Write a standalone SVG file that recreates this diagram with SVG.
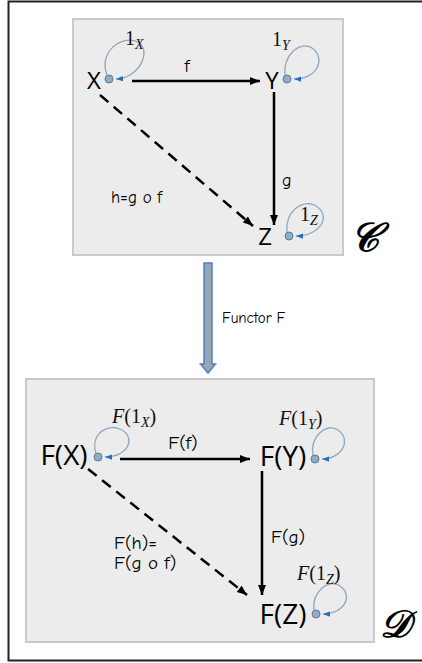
<svg xmlns="http://www.w3.org/2000/svg" width="422" height="663" viewBox="0 0 422 663">
<defs>
<marker id="ah" viewBox="0 0 10 8" refX="10" refY="4" markerWidth="11" markerHeight="8" markerUnits="userSpaceOnUse" orient="auto"><path d="M0,0 L10,4 L0,8 Z" fill="#000"/></marker>
<marker id="lh" viewBox="0 0 8 6" refX="8" refY="3" markerWidth="7" markerHeight="6" markerUnits="userSpaceOnUse" orient="auto"><path d="M0,0 L8,3 L0,6 Z" fill="#1f6fc0"/></marker>
</defs>
<style>
.box{fill:#ececec;stroke:#c9c9c9;stroke-width:2}
.node{font-family:"Open Sans","Noto Sans",sans-serif;fill:#000}
.lab{font-family:"Comic Neue","DejaVu Sans",sans-serif;fill:#000}
.math{font-family:"Liberation Serif","DejaVu Serif",serif;fill:#111}
.edge{stroke:#000;stroke-width:2.5;fill:none}
.dash{stroke-dasharray:11,7}
.loop{stroke:#8ea7bd;stroke-width:1.3;fill:none}
.dot{fill:#93abc3;stroke:#5d7c9a;stroke-width:1}
.cat{font-family:"DejaVu Serif","Liberation Serif",serif;font-style:italic;font-weight:bold;fill:#000}
</style>
<path d="M430,1.5 H8.5 V660.5 H430" fill="#fff" stroke="#222" stroke-width="2"/>
<rect class="box" x="73" y="19" width="270" height="236"/>
<rect class="box" x="26" y="379" width="348" height="263"/>

<g id="connectors">
<line class="edge" x1="132" y1="81" x2="260" y2="81" marker-end="url(#ah)"/>
<line class="edge" x1="274" y1="92" x2="274" y2="225" marker-end="url(#ah)"/>
<line class="edge dash" x1="100" y1="95" x2="253" y2="226" marker-end="url(#ah)"/>
<line class="edge" x1="120" y1="459" x2="250" y2="459" marker-end="url(#ah)"/>
<line class="edge" x1="262" y1="471" x2="262" y2="595" marker-end="url(#ah)"/>
<line class="edge dash" x1="88" y1="469" x2="247" y2="595" marker-end="url(#ah)"/>
<path class="loop" d="M107,75 C98,52 122,34 138,42 C152,50 140,78 116,79" marker-end="url(#lh)"/>
<path class="loop" d="M285,75 C283,55 300,40 312,48 C326,58 318,79 294,79" marker-end="url(#lh)"/>
<path class="loop" d="M287,232 C285,212 302,198 316,206 C332,216 320,236 296,236" marker-end="url(#lh)"/>
<path class="loop" d="M96,453 C90,434 108,422 122,430 C136,438 128,457 105,457" marker-end="url(#lh)"/>
<path class="loop" d="M313,455 C310,437 326,422 338,430 C352,440 342,459 322,459" marker-end="url(#lh)"/>
<path class="loop" d="M314,610 C312,592 328,578 340,586 C354,596 344,614 323,614" marker-end="url(#lh)"/>
<path d="M204,263 H212 V364 H215.5 L208,373 L200.5,364 H204 Z" fill="#97a6b4" stroke="#4f81bd" stroke-width="1.5"/>
<text class="lab" x="222" y="323" font-size="15">Functor F</text>
</g>

<g id="X"><circle class="dot" cx="109" cy="79" r="4"/><text class="node" x="94" y="88.5" font-size="24" text-anchor="middle">X</text><text class="math" x="125" y="45" font-size="20">1<tspan font-style="italic" font-size="14" dy="4">X</tspan></text></g>
<g id="Y"><circle class="dot" cx="287" cy="79" r="4"/><text class="node" x="272" y="88.5" font-size="24" text-anchor="middle">Y</text><text class="math" x="272" y="46" font-size="20">1<tspan font-style="italic" font-size="14" dy="4">Y</tspan></text></g>
<g id="Z"><circle class="dot" cx="289" cy="236" r="4"/><text class="node" x="265" y="245" font-size="24" text-anchor="middle">Z</text><text class="math" x="300" y="221" font-size="20">1<tspan font-style="italic" font-size="14" dy="4">Z</tspan></text></g>
<g id="labels-top">
<text class="lab" x="187" y="72" font-size="18" text-anchor="middle">f</text>
<text class="lab" x="282" y="186" font-size="18">g</text>
<text class="lab" x="111" y="203" font-size="17">h=g o f</text>
<text class="cat" x="350" y="251" font-size="40">𝒞</text>
</g>

<g id="FX"><circle class="dot" cx="98" cy="457" r="4"/><text class="node" x="64" y="465" font-size="28" text-anchor="middle">F(X)</text><text class="math" x="112" y="423" font-size="20"><tspan font-style="italic">F</tspan>(1<tspan font-style="italic" font-size="14" dy="4">X</tspan><tspan dy="-4">)</tspan></text></g>
<g id="FY"><circle class="dot" cx="315" cy="459" r="4"/><text class="node" x="283" y="466" font-size="28" text-anchor="middle">F(Y)</text><text class="math" x="279" y="425" font-size="20"><tspan font-style="italic">F</tspan>(1<tspan font-style="italic" font-size="14" dy="4">Y</tspan><tspan dy="-4">)</tspan></text></g>
<g id="FZ"><circle class="dot" cx="316" cy="614" r="4"/><text class="node" x="283" y="624" font-size="28" text-anchor="middle">F(Z)</text><text class="math" x="297" y="580" font-size="20"><tspan font-style="italic">F</tspan>(1<tspan font-style="italic" font-size="14" dy="4">Z</tspan><tspan dy="-4">)</tspan></text></g>
<g id="labels-bottom">
<text class="lab" x="183" y="449" font-size="19" text-anchor="middle">F(f)</text>
<text class="lab" x="271" y="543" font-size="19">F(g)</text>
<text class="lab" x="114" y="549" font-size="19">F(h)=</text>
<text class="lab" x="114" y="569" font-size="19">F(g o f)</text>
<text class="cat" x="380" y="637" font-size="38">𝒟</text>
</g>
</svg>
